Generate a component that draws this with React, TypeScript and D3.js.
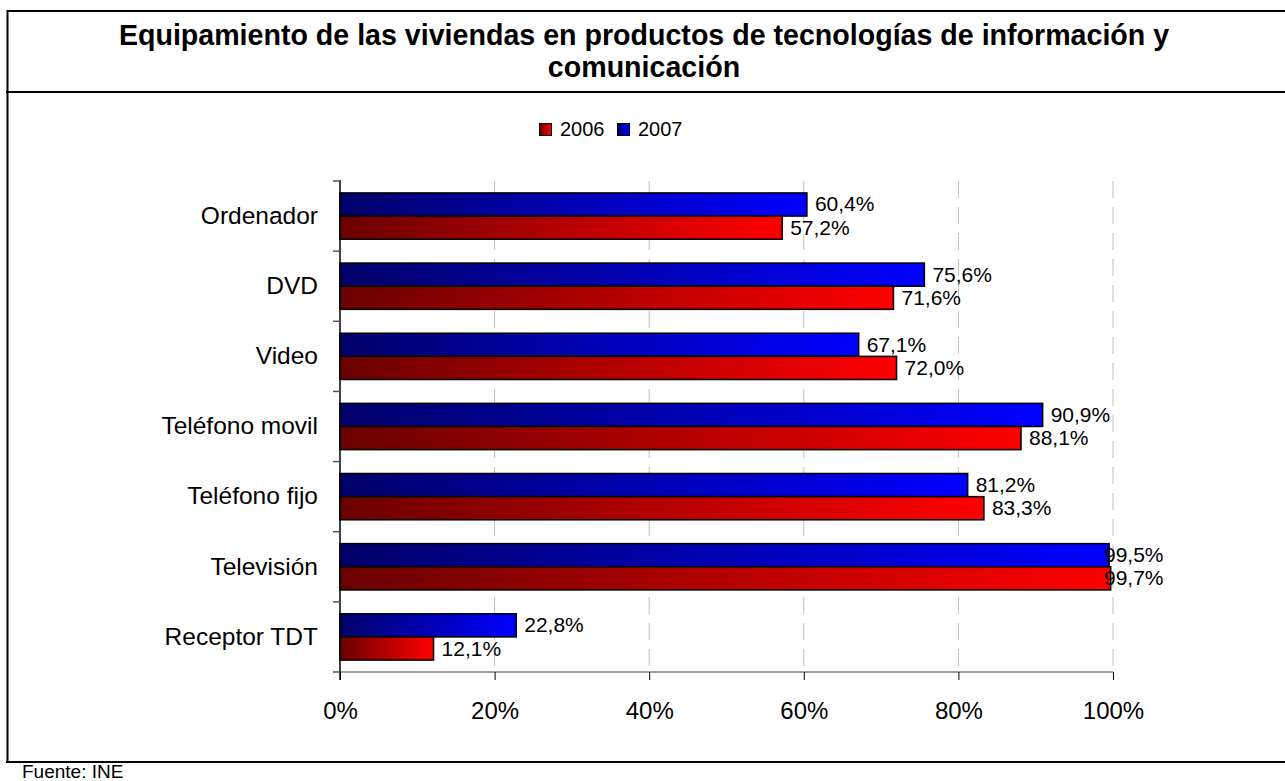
import { useEffect, useRef } from "react"
import * as d3 from "d3"

const categories = ["Ordenador", "DVD", "Video", "Teléfono movil", "Teléfono fijo", "Televisión", "Receptor TDT"]
const values2007 = [60.4, 75.6, 67.1, 90.9, 81.2, 99.5, 22.8]
const values2006 = [57.2, 71.6, 72.0, 88.1, 83.3, 99.7, 12.1]
const seriesNames = ["2006", "2007"]
const xTicks = [0, 20, 40, 60, 80, 100]

const W = 1285
const H = 781

const App = () => {
  const svgRef = useRef<SVGSVGElement>(null)

  useEffect(() => {
    const svg = d3.select(svgRef.current)
    svg.selectAll("*").remove()
    const font = "Arial, 'Liberation Sans', sans-serif"

    const defs = svg.append("defs")
    const grad = (id: string, from: string, to: string) => {
      const g = defs.append("linearGradient").attr("id", id).attr("x1", "0").attr("x2", "1").attr("y1", "0").attr("y2", "0")
      g.append("stop").attr("offset", "0").attr("stop-color", from)
      g.append("stop").attr("offset", "1").attr("stop-color", to)
    }
    grad("gRed", "#6a0000", "#ff0000")
    grad("gBlue", "#00006a", "#0000ff")

    // frame lines
    svg.append("line").attr("x1", 7.5).attr("x2", W).attr("y1", 11).attr("y2", 11).attr("stroke", "#000").attr("stroke-width", 2)
    svg.append("line").attr("x1", 6).attr("x2", W).attr("y1", 92).attr("y2", 92).attr("stroke", "#000").attr("stroke-width", 2)
    svg.append("line").attr("x1", 6).attr("x2", W).attr("y1", 762).attr("y2", 762).attr("stroke", "#000").attr("stroke-width", 2)
    svg.append("line").attr("x1", 7.5).attr("x2", 7.5).attr("y1", 10).attr("y2", 762).attr("stroke", "#000").attr("stroke-width", 2)

    // title
    const title = svg.append("text").attr("text-anchor", "middle").style("font-family", font).style("font-size", "28.6px").style("font-weight", "bold")
    title.append("tspan").attr("x", 644).attr("y", 45).text("Equipamiento de las viviendas en productos de tecnologías de información y")
    title.append("tspan").attr("x", 644).attr("y", 77).text("comunicación")

    svg.append("text").attr("x", 22).attr("y", 778).style("font-family", font).style("font-size", "19px").text("Fuente: INE")

    // legend
    const legend = svg.append("g").attr("transform", "translate(539,123)")
    seriesNames.forEach((name, i) => {
      const lx = i * 78
      legend.append("rect").attr("x", lx + 0.5).attr("y", 0.5).attr("width", 12).attr("height", 12)
        .attr("fill", i === 0 ? "url(#gRed)" : "url(#gBlue)").attr("stroke", "#000")
      legend.append("text").attr("x", lx + 21).attr("y", 13).style("font-family", font).style("font-size", "20px").text(name)
    })

    const x = d3.scaleLinear().domain([0, 100]).range([340, 1113])
    const y = d3.scaleBand().domain(categories).range([181, 672]).paddingInner(0.34).paddingOuter(0.17)
    const bh = y.bandwidth() / 2

    // gridlines
    svg.append("g").selectAll("line").data(xTicks.slice(1)).join("line")
      .attr("x1", (d) => x(d)).attr("x2", (d) => x(d)).attr("y1", 181).attr("y2", 672)
      .attr("stroke", "#c0c0c0").attr("stroke-dasharray", "17,9")

    // bars
    const rows = categories.map((c, i) => ({ c, v07: values2007[i], v06: values2006[i] }))
    const fmt = (v: number) => v.toFixed(1).replace(".", ",") + "%"
    const g = svg.append("g")
    rows.forEach((r) => {
      const y0 = y(r.c) as number
      g.append("rect").attr("x", x(0)).attr("y", y0).attr("width", x(r.v07) - x(0)).attr("height", bh)
        .attr("fill", "url(#gBlue)").attr("stroke", "#000").attr("stroke-width", 1.5)
      g.append("rect").attr("x", x(0)).attr("y", y0 + bh).attr("width", x(r.v06) - x(0)).attr("height", bh)
        .attr("fill", "url(#gRed)").attr("stroke", "#000").attr("stroke-width", 1.5)
    })
    rows.forEach((r) => {
      const y0 = y(r.c) as number
      g.append("text").attr("x", Math.min(x(r.v07) + 8, 1104)).attr("y", y0 + bh / 2 + 7).style("font-family", font).style("font-size", "21px").text(fmt(r.v07))
      g.append("text").attr("x", Math.min(x(r.v06) + 8, 1104)).attr("y", y0 + bh * 1.5 + 7).style("font-family", font).style("font-size", "21px").text(fmt(r.v06))
    })

    // x axis
    const xa = svg.append("g").attr("transform", "translate(0,672)")
      .call(d3.axisBottom(x).tickValues(xTicks).tickSize(8).tickPadding(22).tickFormat((d) => `${d}%`))
    xa.select(".domain").attr("stroke", "#808080").attr("stroke-width", 1.5).attr("d", `M${x(0)},0H${x(100)}`)
    xa.selectAll(".tick line").attr("stroke", "#000")
    xa.selectAll("text").style("font-family", font).style("font-size", "24px").attr("fill", "#000")

    // y axis
    const ya = svg.append("g").attr("transform", `translate(${x(0)},0)`)
      .call(d3.axisLeft(y).tickSize(0).tickPadding(22))
    ya.select(".domain").attr("stroke", "#000").attr("stroke-width", 1.5).attr("d", "M0,180V680")
    ya.selectAll("text").style("font-family", font).style("font-size", "24.5px").attr("fill", "#000")
    const bounds = d3.range(categories.length + 1).map((i) => 181 + i * y.step())
    ya.selectAll(".cat-tick").data(bounds).join("line").attr("class", "cat-tick")
      .attr("x1", -7).attr("x2", 0).attr("y1", (d) => d).attr("y2", (d) => d).attr("stroke", "#555").attr("stroke-width", 1.5)
  }, [])

  return (
    <div style={{ position: "absolute", left: 0, top: 0, background: "#fff" }}>
      <svg ref={svgRef} width={W} height={H} style={{ display: "block" }}></svg>
    </div>
  )
}

export default App
